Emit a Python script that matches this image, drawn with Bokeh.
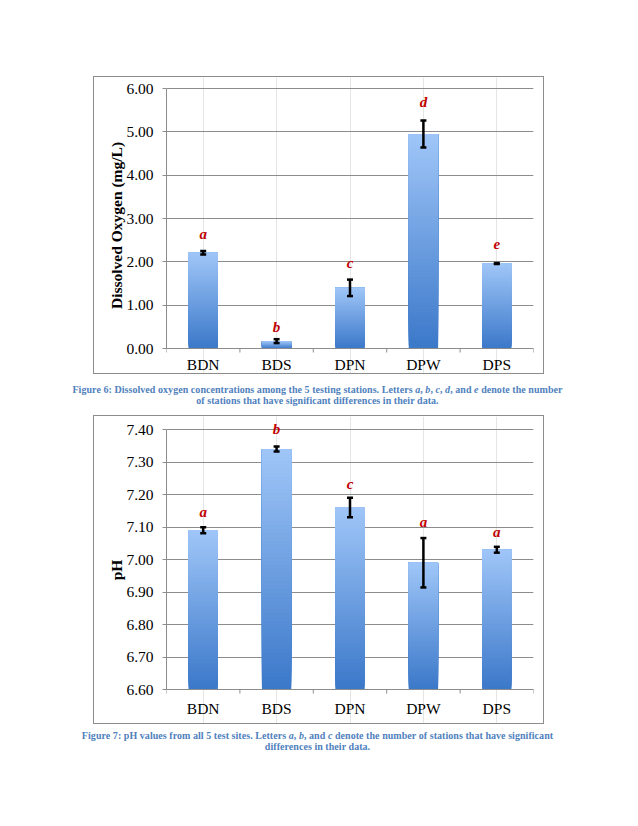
from bokeh.plotting import figure
from bokeh.models import (FixedTicker, Whisker, TeeHead, ColumnDataSource, Range1d,
                          Div, PrintfTickFormatter, LabelSet)
from bokeh.layouts import column
from bokeh.embed import file_html
from bokeh.resources import INLINE

# ---------------- data ----------------
stations = ["BDN", "BDS", "DPN", "DPW", "DPS"]

do_mean = [2.21, 0.17, 1.40, 4.95, 1.96]
do_err = [0.04, 0.045, 0.19, 0.31, 0.01]
do_letters = ["a", "b", "c", "d", "e"]
do_letter_y = [2.64, 0.50, 1.98, 5.68, 2.42]
do_ticks = [0.0, 1.0, 2.0, 3.0, 4.0, 5.0, 6.0]

ph_mean = [7.09, 7.34, 7.16, 6.99, 7.03]
ph_err = [0.009, 0.008, 0.03, 0.076, 0.009]
ph_letters = ["a", "b", "c", "a", "a"]
ph_letter_y = [7.145, 7.403, 7.232, 7.114, 7.086]
ph_ticks = [6.6, 6.7, 6.8, 6.9, 7.0, 7.1, 7.2, 7.3, 7.4]

caption6 = ("Figure 6: Dissolved oxygen concentrations among the 5 testing stations. "
            "Letters <i>a</i>, <i>b</i>, <i>c</i>, <i>d</i>, and <i>e</i> denote the number<br>"
            "of stations that have significant differences in their data.")
caption7 = ("Figure 7: pH values from all 5 test sites. Letters <i>a</i>, <i>b</i>, and "
            "<i>c</i> denote the number of stations that have significant<br>"
            "differences in their data.")

# ---------------- style ----------------
SERIF = "Liberation Serif"
GRID = "#8c8c8c"
DARK = (59, 120, 201)
LIGHT = (160, 198, 248)
N_SLICES = 60
FRAME_H = 260          # pixel height between first and last y tick
FIG_W = 449


def lerp(c1, c2, t):
    return "#%02x%02x%02x" % tuple(int(round(a + (b - a) * t)) for a, b in zip(c1, c2))


def make_chart(means, errs, letters, letter_y, ticks, ylabel, height, top_px, below_px,
               label_off, margin):
    xs = list(range(1, len(stations) + 1))
    base = ticks[0]
    ppu = FRAME_H / (ticks[-1] - ticks[0])          # pixels per data unit
    y0 = base - below_px / ppu
    y1 = ticks[-1] + top_px / ppu
    p = figure(width=FIG_W, height=height, output_backend="svg", toolbar_location=None,
               x_range=Range1d(0.5, len(stations) + 0.5), y_range=Range1d(y0, y1),
               x_axis_location=None,
               min_border_left=72, min_border_right=10, min_border_top=0,
               min_border_bottom=0, margin=margin,
               styles={"outline": "1px solid #8c8c8c"})
    p.outline_line_color = None
    p.background_fill_color = "white"
    p.border_fill_color = "white"

    # gradient bars: overlapping slices from bottom (dark) to top (light)
    bx, bb, bt, bc = [], [], [], []
    for x, v in zip(xs, means):
        for k in range(N_SLICES):
            bx.append(x)
            bb.append(base + (v - base) * k / N_SLICES)
            bt.append(v)
            bc.append(lerp(DARK, LIGHT, (k + 0.5) / N_SLICES))
    p.vbar(x=bx, bottom=bb, top=bt, width=0.4, fill_color=bc, line_color=None)

    # category axis drawn at the baseline: boundary ticks + station names
    bounds = [x - 0.5 for x in xs] + [xs[-1] + 0.5]
    p.segment(x0=bounds, y0=[base] * len(bounds), x1=bounds,
              y1=[base - 4 / ppu] * len(bounds), line_color=GRID, line_width=1)
    p.segment(x0=[bounds[0]], y0=[base], x1=[bounds[-1]], y1=[base],
              line_color=GRID, line_width=1)

    src = ColumnDataSource(dict(x=xs, upper=[m + e for m, e in zip(means, errs)],
                                lower=[m - e for m, e in zip(means, errs)],
                                ly=letter_y, lt=letters, base=[base] * len(xs),
                                name=stations))
    p.add_layout(LabelSet(x="x", y="base", text="name", source=src, y_offset=-label_off,
                          text_align="center", text_baseline="middle", text_font=SERIF,
                          text_font_size="15.5px", text_color="black"))

    w = Whisker(base="x", upper="upper", lower="lower", source=src, level="annotation",
                line_color="black", line_width=2.5,
                upper_head=TeeHead(size=6, line_width=2.5, line_color="black"),
                lower_head=TeeHead(size=6, line_width=2.5, line_color="black"))
    p.add_layout(w)

    p.add_layout(LabelSet(x="x", y="ly", text="lt", source=src, level="overlay",
                          text_align="center", text_baseline="middle",
                          text_font=SERIF, text_font_style="bold italic",
                          text_font_size="15px", text_color="#c00000"))

    # y axis
    p.ygrid.grid_line_color = GRID
    p.ygrid.ticker = FixedTicker(ticks=ticks)
    p.yaxis.ticker = FixedTicker(ticks=ticks)
    p.yaxis.bounds = (ticks[0], ticks[-1])
    p.yaxis.formatter = PrintfTickFormatter(format="%.2f")
    p.yaxis.axis_line_color = GRID
    p.yaxis.major_tick_line_color = GRID
    p.yaxis.major_tick_in = 0
    p.yaxis.major_tick_out = 4
    p.yaxis.minor_tick_line_color = None
    p.yaxis.major_label_standoff = 9
    p.yaxis.major_label_text_font = SERIF
    p.yaxis.major_label_text_font_size = "15.5px"
    p.yaxis.major_label_text_color = "black"
    p.yaxis.axis_label = ylabel
    p.yaxis.axis_label_text_font = SERIF
    p.yaxis.axis_label_text_font_style = "bold"
    p.yaxis.axis_label_text_font_size = "15.5px"
    p.yaxis.axis_label_text_color = "black"
    p.yaxis.axis_label_standoff = -2
    return p


def caption(html, margin):
    return Div(text=html, width=609, height=22, margin=margin,
               styles={"font-family": SERIF, "font-weight": "bold", "font-size": "10px",
                       "color": "#4f81bd", "text-align": "center", "line-height": "11px",
                       "white-space": "nowrap", "letter-spacing": "0.05px"})


# top chart: box 76..373, 6.00 line at 88, 0.00 line at 348
p1 = make_chart(do_mean, do_err, do_letters, do_letter_y, do_ticks,
                "Dissolved Oxygen (mg/L)", 296, 11, 25, 16, (77, 0, 0, 94))
d1 = caption(caption6, (11, 0, 0, 13))
# bottom chart: box 415..723, 7.40 line at 429, 6.60 line at 689
p2 = make_chart(ph_mean, ph_err, ph_letters, ph_letter_y, ph_ticks,
                "pH", 307, 13, 34, 18.5, (10, 0, 0, 94))
d2 = caption(caption7, (7, 0, 0, 13))

layout = column(p1, d1, p2, d2)
open("out.html", "w").write(file_html(layout, INLINE))
